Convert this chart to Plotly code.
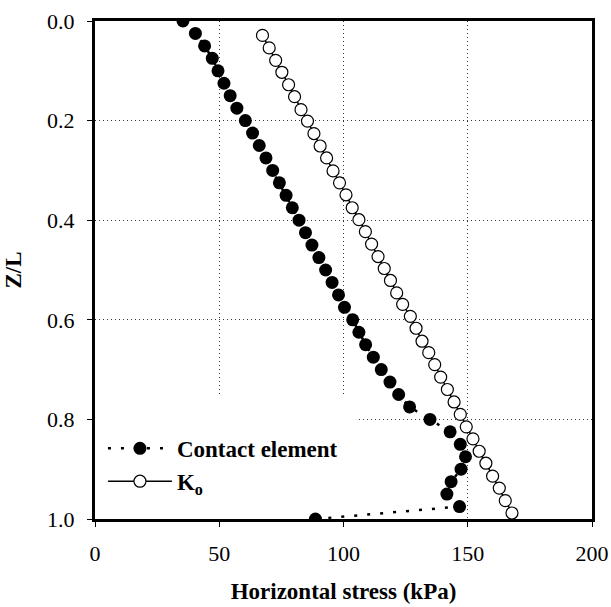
import plotly.graph_objects as go

# Contact element: horizontal stress (kPa) vs Z/L
contact_z = [0.000, 0.025, 0.050, 0.075, 0.100, 0.125, 0.150, 0.175, 0.200, 0.225,
             0.250, 0.275, 0.300, 0.325, 0.350, 0.375, 0.400, 0.425, 0.450, 0.475,
             0.500, 0.525, 0.550, 0.575, 0.600, 0.625, 0.650, 0.675, 0.700, 0.725,
             0.750, 0.775, 0.800, 0.825, 0.850, 0.875, 0.900, 0.925, 0.950, 0.975, 1.000]
contact_x = [35.4, 40.4, 44.1, 47.2, 49.5, 51.9, 54.4, 57.1, 60.5, 63.4,
             66.1, 68.8, 71.5, 74.2, 76.9, 79.4, 82.1, 84.7, 87.3, 90.1,
             92.8, 95.4, 98.0, 100.4, 103.7, 106.2, 108.9, 112.0, 115.2, 118.7,
             122.2, 126.6, 134.8, 142.9, 147.0, 149.1, 147.3, 143.3, 141.6, 146.7, 88.7]

# Ko line
ko_z = [0.029, 0.054, 0.079, 0.103, 0.128, 0.152, 0.178, 0.201, 0.226, 0.251,
        0.275, 0.301, 0.325, 0.349, 0.375, 0.399, 0.423, 0.448, 0.473, 0.497,
        0.521, 0.546, 0.569, 0.593, 0.617, 0.643, 0.666, 0.690, 0.715, 0.740,
        0.765, 0.790, 0.815, 0.839, 0.864, 0.888, 0.914, 0.938, 0.963, 0.988]
ko_x = [67.4, 70.1, 72.7, 75.2, 77.9, 80.3, 82.9, 85.5, 88.1, 90.6,
        93.2, 95.8, 98.4, 101.0, 103.5, 106.2, 108.8, 111.3, 113.9, 116.4,
        118.9, 121.4, 123.8, 126.9, 129.2, 131.6, 134.3, 136.7, 139.1, 141.8,
        144.5, 147.0, 149.4, 152.1, 154.6, 157.3, 160.0, 162.7, 165.1, 167.8]

x_ticks = [0, 50, 100, 150, 200]
y_ticks = [0.0, 0.2, 0.4, 0.6, 0.8, 1.0]

FONT = "Liberation Serif, Times New Roman, serif"

fig = go.Figure()
fig.add_trace(go.Scatter(
    x=contact_x, y=contact_z, mode="lines+markers", name="<b>Contact element</b>",
    line=dict(color="black", width=2.5, dash="3px,10px"),
    marker=dict(symbol="circle", size=13, color="black", line=dict(width=0)),
))
fig.add_trace(go.Scatter(
    x=ko_x, y=ko_z, mode="lines+markers", name="<b>K<sub>o</sub></b>",
    line=dict(color="black", width=1.5),
    marker=dict(symbol="circle", size=12, color="white", line=dict(color="black", width=1.2)),
))

# white legend background area hiding gridlines
fig.add_shape(type="rect", xref="x", yref="y", x0=0, x1=105, y0=0.755, y1=1.0,
              fillcolor="white", line=dict(width=0), layer="between")

axis_common = dict(
    showline=True, linecolor="black", linewidth=3, mirror=True,
    ticks="outside", ticklen=5, tickwidth=1, tickcolor="black",
    showgrid=True, gridcolor="#333", gridwidth=1, griddash="1px,3px",
    zeroline=False, automargin=False,
    tickfont=dict(family=FONT, size=22, color="black"),
)

fig.update_xaxes(
    range=[0, 200], tickvals=x_ticks, ticktext=[str(v) for v in x_ticks],
    title=dict(text="<b>Horizontal stress (kPa)</b>", font=dict(family=FONT, size=23, color="black"), standoff=18),
    ticklabelstandoff=8,
    **axis_common,
)
fig.update_yaxes(
    range=[1.0, 0.0], tickvals=y_ticks, ticktext=[f"{v:.1f}" for v in y_ticks],
    title=dict(text="<b>Z/L</b>", font=dict(family=FONT, size=23, color="black"), standoff=20),
    ticklabelstandoff=8,
    **axis_common,
)

fig.update_layout(
    width=611, height=607,
    margin=dict(l=95, r=19, t=21, b=88),
    plot_bgcolor="white", paper_bgcolor="white",
    showlegend=True,
    legend=dict(x=0.016, y=0.185, xanchor="left", yanchor="top",
                bgcolor="rgba(0,0,0,0)", itemwidth=64,
                font=dict(family=FONT, size=23, color="black"),
                tracegroupgap=0),
    font=dict(family=FONT, color="black"),
)

fig.write_html("out.html")
